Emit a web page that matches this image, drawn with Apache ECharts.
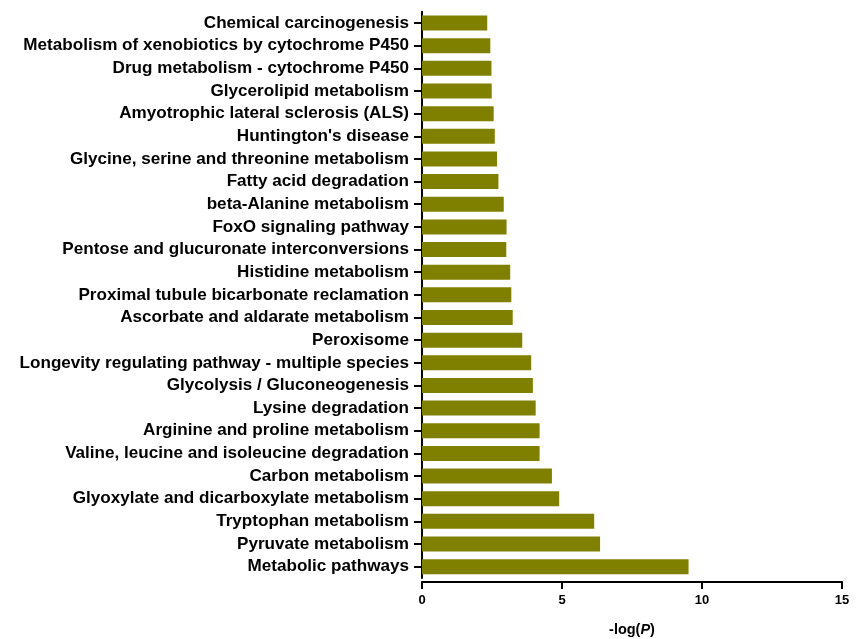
<!DOCTYPE html>
<html><head><meta charset="utf-8">
<script src="https://cdn.jsdelivr.net/npm/echarts@6/dist/echarts.min.js"></script>
<style>html,body{margin:0;padding:0;background:#fff}#c{width:865px;height:639px}</style>
</head><body><div id="c"></div>
<script>
const categories = [
  "Chemical carcinogenesis",
  "Metabolism of xenobiotics by cytochrome P450",
  "Drug metabolism - cytochrome P450",
  "Glycerolipid metabolism",
  "Amyotrophic lateral sclerosis (ALS)",
  "Huntington's disease",
  "Glycine, serine and threonine metabolism",
  "Fatty acid degradation",
  "beta-Alanine metabolism",
  "FoxO signaling pathway",
  "Pentose and glucuronate interconversions",
  "Histidine metabolism",
  "Proximal tubule bicarbonate reclamation",
  "Ascorbate and aldarate metabolism",
  "Peroxisome",
  "Longevity regulating pathway - multiple species",
  "Glycolysis / Gluconeogenesis",
  "Lysine degradation",
  "Arginine and proline metabolism",
  "Valine, leucine and isoleucine degradation",
  "Carbon metabolism",
  "Glyoxylate and dicarboxylate metabolism",
  "Tryptophan metabolism",
  "Pyruvate metabolism",
  "Metabolic pathways"
];
const values = [2.33, 2.44, 2.48, 2.49, 2.56, 2.60, 2.68, 2.73, 2.92, 3.02, 3.01, 3.15, 3.19, 3.24, 3.58, 3.90, 3.96, 4.06, 4.20, 4.20, 4.64, 4.90, 6.15, 6.36, 9.52];
const xTicks = [0, 5, 10, 15];

const FONT = 'Liberation Sans, Arial, sans-serif';
const chart = echarts.init(document.getElementById('c'));
chart.setOption({
  animation: false,
  backgroundColor: '#fff',
  grid: { left: 422, right: 23, top: 11.7, bottom: 61, containLabel: false, outerBoundsMode: 'none' },
  xAxis: {
    type: 'value', min: xTicks[0], max: xTicks[xTicks.length - 1], interval: 5,
    offset: 4,
    splitLine: { show: false },
    axisLine: { show: true, lineStyle: { color: '#000', width: 2 } },
    axisTick: { show: true, length: 7, lineStyle: { color: '#000', width: 2 } },
    axisLabel: { color: '#000', fontFamily: FONT, fontWeight: 'bold', fontSize: 13, margin: 12 },
    name: '{a|-log(}{b|P}{a|)}',
    nameLocation: 'middle', nameGap: 40,
    nameTextStyle: {
      rich: {
        a: { color: '#000', fontFamily: FONT, fontWeight: 'bold', fontSize: 14.5 },
        b: { color: '#000', fontFamily: FONT, fontWeight: 'bold', fontStyle: 'italic', fontSize: 14.5 }
      }
    }
  },
  yAxis: {
    type: 'category', data: categories, inverse: true,
    axisLine: { show: true, lineStyle: { color: '#000', width: 2 } },
    axisTick: { show: true, alignWithLabel: true, length: 8, lineStyle: { color: '#000', width: 2 } },
    axisLabel: { color: '#000', fontFamily: FONT, fontWeight: 'bold', fontSize: 17.1, margin: 13, interval: 0 }
  },
  series: [{
    type: 'bar', data: values, barWidth: 15,
    itemStyle: { color: '#808000' }
  }]
});
</script>
</body></html>
